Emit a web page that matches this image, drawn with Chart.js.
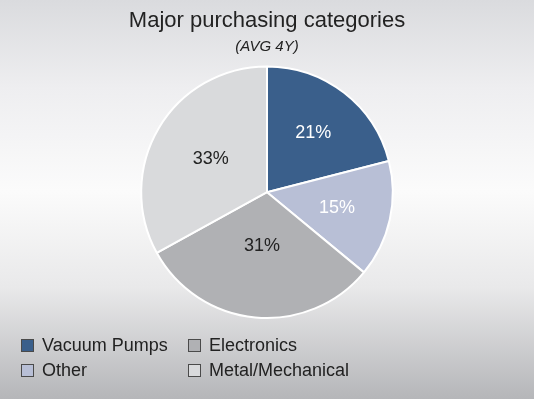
<!DOCTYPE html>
<html>
<head>
<meta charset="utf-8">
<title>Major purchasing categories</title>
<script src="https://cdn.jsdelivr.net/npm/chart.js@4.4.1/dist/chart.umd.min.js"></script>
<style>
  html, body { margin: 0; padding: 0; }
  body {
    width: 534px; height: 399px; overflow: hidden; position: relative;
    background: linear-gradient(to bottom, #dadbde 0%, #eeeef0 22%, #fbfbfb 48%, #e9e9ea 72%, #b5b6b9 100%);
    font-family: "Liberation Sans", Arial, sans-serif;
  }
  #wrap { position: absolute; left: 0; top: 0; width: 534px; height: 399px; }
  #legend {
    position: absolute; left: 21px; top: 333px;
    display: grid; grid-template-rows: 25px 25px; grid-template-columns: 167px auto;
    grid-auto-flow: column;
  }
  .item { display: flex; align-items: center; font-size: 18px; color: #222222; }
  .box { width: 11px; height: 11px; border: 1px solid #4a4a4a; margin-right: 8px; }
</style>
</head>
<body>
<div id="wrap"><canvas id="pieChart" width="534" height="399"></canvas></div>
<div id="legend"></div>
<script>
// data
const categories = ["Vacuum Pumps", "Other", "Electronics", "Metal/Mechanical"];
const shares = [21, 15, 31, 33];

const colours = ["#3a5f8b", "#b8bfd6", "#b0b1b4", "#d9dadc"];
const labelColours = ["#ffffff", "#ffffff", "#222222", "#222222"];
// how far out each % label sits (fraction of radius)
const labelRadius = [0.6, 0.57, 0.43, 0.52];

// % labels inside slices
const sliceLabels = {
  id: "sliceLabels",
  afterDatasetsDraw(chart) {
    const ctx = chart.ctx;
    const meta = chart.getDatasetMeta(0);
    ctx.save();
    ctx.font = "18px 'Liberation Sans', Arial, sans-serif";
    ctx.textAlign = "center";
    ctx.textBaseline = "middle";
    meta.data.forEach((arc, i) => {
      const p = arc.getProps(["x", "y", "startAngle", "endAngle", "outerRadius"], true);
      const mid = (p.startAngle + p.endAngle) / 2;
      const r = p.outerRadius * labelRadius[i];
      ctx.fillStyle = labelColours[i];
      ctx.fillText(shares[i] + "%", p.x + Math.cos(mid) * r, p.y + Math.sin(mid) * r);
    });
    ctx.restore();
  }
};

const ctx1 = document.getElementById("pieChart").getContext("2d");

new Chart(ctx1, {
  type: "pie",
  data: {
    labels: categories,
    datasets: [{
      data: shares,
      backgroundColor: colours,
      borderColor: "#ffffff",
      borderWidth: 2
    }]
  },
  options: {
    responsive: false,
    animation: false,
    layout: { padding: { bottom: 80 } },
    plugins: {
      legend: { display: false },
      tooltip: { enabled: false },
      title: {
        display: true,
        text: "Major purchasing categories",
        color: "#222222",
        font: { family: "'Liberation Sans', Arial, sans-serif", size: 22, weight: "normal" },
        padding: { top: 8, bottom: 0 }
      },
      subtitle: {
        display: true,
        text: "(AVG 4Y)",
        color: "#222222",
        font: { family: "'Liberation Sans', Arial, sans-serif", size: 15, style: "italic" },
        padding: { top: 3, bottom: 10 }
      }
    }
  },
  plugins: [sliceLabels]
});

// legend, two columns filled top-down
const legend = document.getElementById("legend");
categories.forEach((name, i) => {
  const item = document.createElement("div");
  item.className = "item";
  const box = document.createElement("span");
  box.className = "box";
  box.style.background = colours[i];
  item.appendChild(box);
  item.appendChild(document.createTextNode(name));
  legend.appendChild(item);
});
</script>
</body>
</html>
